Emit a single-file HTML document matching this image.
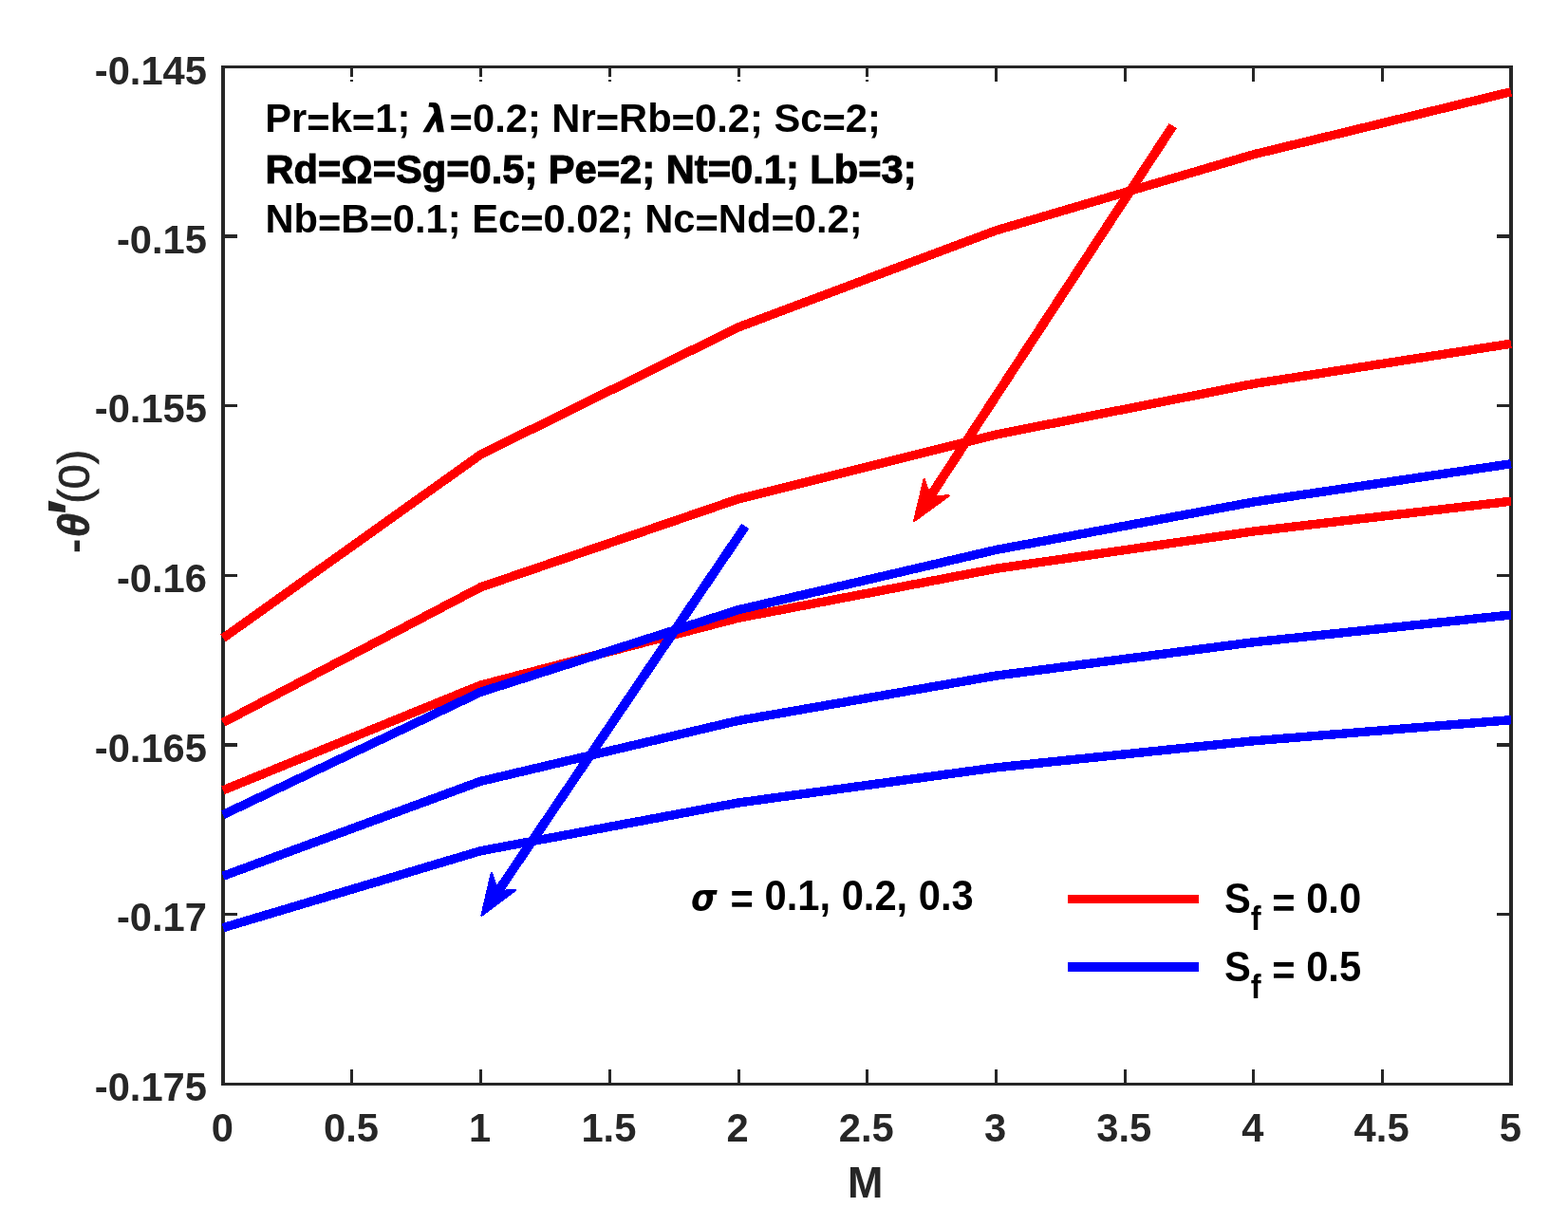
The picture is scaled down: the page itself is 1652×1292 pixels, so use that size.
<!DOCTYPE html>
<html lang="en"><head><meta charset="utf-8"><title>Figure</title>
<style>
html,body{margin:0;padding:0;background:#ffffff;}
svg{display:block;}
text{font-family:"Liberation Sans",sans-serif;font-weight:bold;}
.tk{font-size:41.7px;fill:#262626;}
.lb{font-size:45.8px;fill:#262626;}
.an{font-size:41.7px;fill:#000000;}
.gk{font-family:"DejaVu Sans",sans-serif;font-style:italic;font-weight:bold;}
.gi{font-family:"Liberation Sans",sans-serif;font-style:italic;font-weight:bold;}
.rg{font-weight:normal;}
</style></head><body>
<svg width="1652" height="1292" viewBox="0 0 1652 1292">
<rect x="0" y="0" width="1652" height="1292" fill="#ffffff"/>
<g fill="#262626" shape-rendering="crispEdges">
<rect x="233" y="69" width="4" height="1075"/>
<rect x="1590" y="69" width="4" height="1075"/>
<rect x="233" y="69" width="1361" height="3"/>
<rect x="233" y="1141" width="1361" height="3"/>
<rect x="369" y="1127" width="3" height="15"/>
<rect x="369" y="71" width="3" height="10"/>
<rect x="369" y="84" width="3" height="2"/>
<rect x="505" y="1127" width="3" height="15"/>
<rect x="505" y="71" width="3" height="10"/>
<rect x="505" y="84" width="3" height="2"/>
<rect x="641" y="1127" width="3" height="15"/>
<rect x="641" y="71" width="3" height="10"/>
<rect x="641" y="84" width="3" height="2"/>
<rect x="777" y="1127" width="3" height="15"/>
<rect x="777" y="71" width="3" height="10"/>
<rect x="777" y="84" width="3" height="2"/>
<rect x="912" y="1127" width="3" height="15"/>
<rect x="912" y="71" width="3" height="10"/>
<rect x="912" y="84" width="3" height="2"/>
<rect x="1048" y="1127" width="3" height="15"/>
<rect x="1048" y="71" width="3" height="15"/>
<rect x="1184" y="1127" width="3" height="15"/>
<rect x="1184" y="71" width="3" height="15"/>
<rect x="1319" y="1127" width="3" height="15"/>
<rect x="1319" y="71" width="3" height="15"/>
<rect x="1455" y="1127" width="3" height="15"/>
<rect x="1455" y="71" width="3" height="15"/>
<rect x="236" y="247" width="14" height="4"/>
<rect x="1577" y="247" width="14" height="4"/>
<rect x="236" y="426" width="14" height="3"/>
<rect x="1577" y="426" width="14" height="3"/>
<rect x="236" y="605" width="14" height="3"/>
<rect x="1577" y="605" width="14" height="3"/>
<rect x="236" y="783" width="14" height="4"/>
<rect x="1577" y="783" width="14" height="4"/>
<rect x="236" y="962" width="14" height="3"/>
<rect x="1577" y="962" width="14" height="3"/>
</g>
<g fill="none" stroke-width="9.40" stroke-linejoin="round" stroke-linecap="butt" shape-rendering="crispEdges">
<polyline stroke="#ff0000" points="235.0,672.5 506.4,479.0 777.8,344.9 1049.2,242.9 1320.6,162.8 1592.0,96.8"/>
<polyline stroke="#ff0000" points="235.0,761.5 506.4,618.8 777.8,525.9 1049.2,458.0 1320.6,404.5 1592.0,362.2"/>
<polyline stroke="#ff0000" points="235.0,832.8 506.4,722.0 777.8,651.3 1049.2,599.3 1320.6,560.0 1592.0,528.2"/>
<polyline stroke="#0000ff" points="235.0,858.6 506.4,729.3 777.8,642.7 1049.2,579.5 1320.6,529.0 1592.0,488.8"/>
<polyline stroke="#0000ff" points="235.0,923.2 506.4,823.3 777.8,759.4 1049.2,712.1 1320.6,676.8 1592.0,648.0"/>
<polyline stroke="#0000ff" points="235.0,977.7 506.4,896.7 777.8,846.0 1049.2,808.9 1320.6,780.8 1592.0,758.7"/>
</g>
<text class="tk" transform="translate(234.3,1203.3) scale(1.0,1.04)" text-anchor="middle">0</text>
<text class="tk" transform="translate(370.0,1203.3) scale(1.0,1.04)" text-anchor="middle">0.5</text>
<text class="tk" transform="translate(505.7,1203.3) scale(1.0,1.04)" text-anchor="middle">1</text>
<text class="tk" transform="translate(641.4,1203.3) scale(1.0,1.04)" text-anchor="middle">1.5</text>
<text class="tk" transform="translate(777.1,1203.3) scale(1.0,1.04)" text-anchor="middle">2</text>
<text class="tk" transform="translate(912.8,1203.3) scale(1.0,1.04)" text-anchor="middle">2.5</text>
<text class="tk" transform="translate(1048.5,1203.3) scale(1.0,1.04)" text-anchor="middle">3</text>
<text class="tk" transform="translate(1184.2,1203.3) scale(1.0,1.04)" text-anchor="middle">3.5</text>
<text class="tk" transform="translate(1319.9,1203.3) scale(1.0,1.04)" text-anchor="middle">4</text>
<text class="tk" transform="translate(1455.6,1203.3) scale(1.0,1.04)" text-anchor="middle">4.5</text>
<text class="tk" transform="translate(1591.3,1203.3) scale(1.0,1.04)" text-anchor="middle">5</text>
<text class="tk" transform="translate(218.0,88.8) scale(1.0,1.04)" text-anchor="end">-0.145</text>
<text class="tk" transform="translate(218.0,266.8) scale(1.0,1.04)" text-anchor="end">-0.15</text>
<text class="tk" transform="translate(218.0,445.4) scale(1.0,1.04)" text-anchor="end">-0.155</text>
<text class="tk" transform="translate(218.0,624.1) scale(1.0,1.04)" text-anchor="end">-0.16</text>
<text class="tk" transform="translate(218.0,802.8) scale(1.0,1.04)" text-anchor="end">-0.165</text>
<text class="tk" transform="translate(218.0,981.4) scale(1.0,1.04)" text-anchor="end">-0.17</text>
<text class="tk" transform="translate(218.0,1160.1) scale(1.0,1.04)" text-anchor="end">-0.175</text>
<text class="lb" transform="translate(911.8,1262.4) scale(0.98,1.0)" text-anchor="middle">M</text>
<text class="lb" transform="translate(94.2,582) rotate(-90)"><tspan x="-1" y="-1.5">-</tspan><tspan class="gi" x="15.5" y="0" stroke="#262626" stroke-width="0.7">θ</tspan><tspan x="39" y="6" style="font-size:70px">′</tspan><tspan class="rg" x="51.3" y="0" style="font-size:46.6px" stroke="#262626" stroke-width="0.8">(0)</tspan></text>
<text class="an" transform="translate(279.3,139.0) scale(1.0,1.035)" >Pr<tspan dy="4.6">=</tspan><tspan dy="-4.6">k</tspan><tspan dy="4.6">=</tspan><tspan dy="-4.6">1</tspan>; <tspan class="gk" x="167.8" style="font-size:39.5px">λ</tspan><tspan x="194.3"><tspan dy="4.6">=</tspan><tspan dy="-4.6">0</tspan>.2; Nr<tspan dy="4.6">=</tspan><tspan dy="-4.6">R</tspan>b<tspan dy="4.6">=</tspan><tspan dy="-4.6">0</tspan>.2; Sc<tspan dy="4.6">=</tspan><tspan dy="-4.6">2</tspan>;</tspan></text>
<text class="an" transform="translate(279.4,193.0) scale(0.999,1.035)" stroke="#000" stroke-width="1">Rd=Ω=Sg=0.5; Pe=2; Nt=0.1; Lb=3;</text>
<text class="an" transform="translate(279.4,245.0) scale(1.0,1.035)" >Nb<tspan dy="4.6">=</tspan><tspan dy="-4.6">B</tspan><tspan dy="4.6">=</tspan><tspan dy="-4.6">0</tspan>.1; Ec<tspan dy="4.6">=</tspan><tspan dy="-4.6">0</tspan>.02; Nc<tspan dy="4.6">=</tspan><tspan dy="-4.6">N</tspan>d<tspan dy="4.6">=</tspan><tspan dy="-4.6">0</tspan>.2;</text>
<text class="an" transform="translate(728,958.9) scale(1.0,1.06)" ><tspan class="gk" style="font-size:35.5px">σ</tspan> <tspan x="41.6"><tspan dy="4.0">=</tspan><tspan dy="-4.0"> </tspan>0.1, 0.2, 0.3</tspan></text>
<g shape-rendering="crispEdges"><rect x="1125" y="943" width="138" height="9" fill="#ff0000"/><rect x="1125" y="1014" width="138" height="10" fill="#0000ff"/></g>
<text class="an" transform="translate(1290,961.9) scale(1.0,1.06)" >S<tspan dy="17" style="font-size:32.5px">f</tspan><tspan dy="-12.4"> =</tspan><tspan dy="-4.6"> 0.0</tspan></text>
<text class="an" transform="translate(1290,1033.6) scale(1.0,1.06)" >S<tspan dy="17" style="font-size:32.5px">f</tspan><tspan dy="-12.4"> =</tspan><tspan dy="-4.6"> 0.5</tspan></text>
<line x1="1235.7" y1="132.6" x2="980.0" y2="523.3" stroke="#ff0000" stroke-width="9.80" shape-rendering="crispEdges"/>
<polygon points="963.3,548.8 973.6,505.2 980.0,523.3 999.6,522.5" fill="#ff0000" stroke="#ff0000" stroke-width="2.4" stroke-linejoin="round" shape-rendering="crispEdges"/>
<line x1="785.2" y1="554.6" x2="524.7" y2="939.4" stroke="#0000ff" stroke-width="9.80" shape-rendering="crispEdges"/>
<polygon points="507.6,964.6 517.8,920.3 524.7,939.4 543.3,937.8" fill="#0000ff" stroke="#0000ff" stroke-width="2.4" stroke-linejoin="round" shape-rendering="crispEdges"/>
</svg>
</body></html>
